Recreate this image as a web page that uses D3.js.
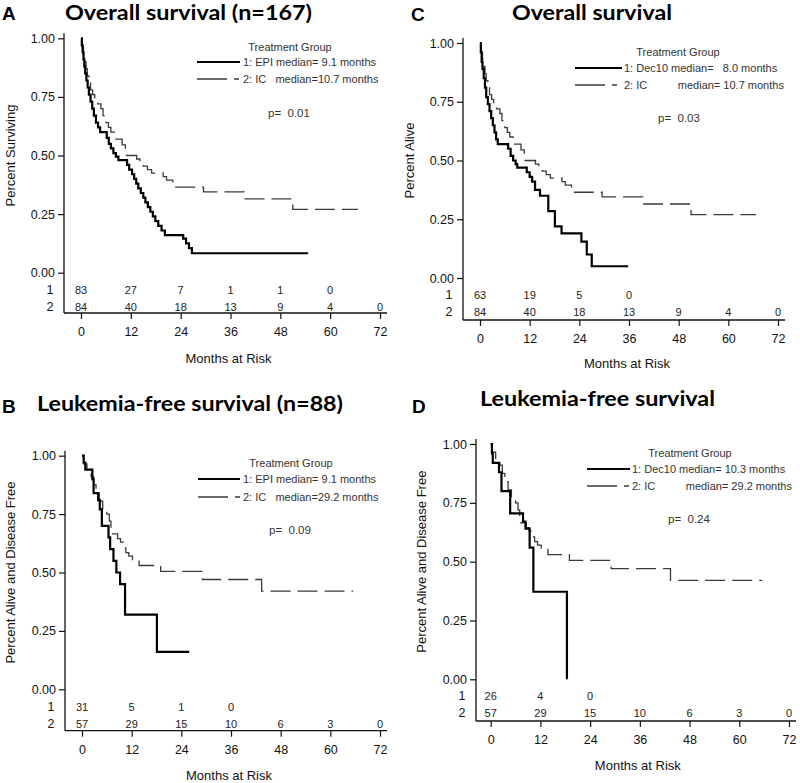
<!DOCTYPE html>
<html><head><meta charset="utf-8">
<script src="https://cdn.jsdelivr.net/npm/d3@7"></script>
<style>
html,body{margin:0;padding:0;background:#fff;}
svg text{white-space:pre;}
</style></head>
<body>
<svg id="chart" width="800" height="783"></svg>
<script>
// ---------- data ----------
const monthTicks = [0, 12, 24, 36, 48, 60, 72];
const yTickValues = [0, 0.25, 0.5, 0.75, 1.0];

// Overall survival, EPI (panel A)
const osEpiTime = [0,0.2,0.4,0.6,0.8,1.0,1.3,1.6,1.9,2.3,2.7,3.1,3.6,4.1,4.6,6.2,6.7,7.2,7.8,8.4,9.0,11.1,11.6,12.3,12.8,13.3,13.8,14.4,15.0,15.5,16.1,16.7,17.3,17.9,18.6,19.4,20.2,24.6,25.3,26.0,26.7,54.7];
const osEpiSurv = [1.0,0.97,0.94,0.91,0.88,0.85,0.82,0.79,0.76,0.73,0.70,0.67,0.64,0.62,0.60,0.575,0.55,0.53,0.51,0.495,0.48,0.46,0.44,0.42,0.40,0.38,0.36,0.34,0.32,0.30,0.28,0.26,0.24,0.22,0.20,0.18,0.16,0.145,0.125,0.105,0.083,0.083];
// Overall survival, IC (panels A and C)
const osIcTime = [0,0.3,0.6,0.9,1.2,1.5,1.9,2.3,2.8,3.3,4.0,4.8,5.3,6.0,6.6,7.2,8.0,9.9,10.7,13.4,14.2,15.0,16.0,17.0,19.8,20.6,22.1,29.5,39.3,51.0,66.7];
const osIcSurv = [1.0,0.96,0.93,0.90,0.87,0.84,0.81,0.78,0.76,0.74,0.72,0.70,0.67,0.64,0.62,0.60,0.57,0.545,0.50,0.485,0.47,0.455,0.44,0.425,0.41,0.395,0.365,0.345,0.315,0.27,0.27];
// Overall survival, Dec10 (panel C)
const osDecTime = [0,0.2,0.4,0.6,0.9,1.2,1.5,1.9,2.3,2.7,3.1,3.5,3.9,4.3,6.8,7.4,8.0,8.6,9.0,11.3,12.0,12.6,13.3,14.5,16.5,18.1,19.7,24.5,25.8,27.0,35.8];
const osDecSurv = [1.0,0.96,0.92,0.89,0.85,0.81,0.77,0.74,0.71,0.68,0.65,0.62,0.59,0.57,0.55,0.52,0.50,0.485,0.47,0.45,0.43,0.41,0.375,0.35,0.285,0.22,0.19,0.155,0.10,0.05,0.05];
// Leukemia-free survival, EPI (panel B)
const lfsEpiTime = [0,0.4,0.8,2.5,2.8,3.9,4.3,4.8,6.4,6.8,7.6,8.3,9.2,10.4,18.1,25.9];
const lfsEpiSurv = [1.0,0.97,0.94,0.90,0.84,0.81,0.77,0.70,0.65,0.60,0.55,0.50,0.45,0.32,0.16,0.16];
// Leukemia-free survival, IC (panels B and D)
const lfsIcTime = [0,0.4,1.2,2.2,2.8,3.4,4.2,5.0,6.0,6.6,7.0,8.6,9.3,10.0,10.6,11.3,12.2,13.8,19.0,29.1,43.4,65.5];
const lfsIcSurv = [1.0,0.965,0.93,0.91,0.875,0.84,0.805,0.775,0.75,0.72,0.665,0.645,0.63,0.605,0.585,0.57,0.555,0.53,0.505,0.47,0.42,0.42];
// Leukemia-free survival, Dec10 (panel D)
const lfsDecTime = [0,0.3,0.5,2.0,2.6,4.7,7.8,8.4,9.4,10.3,18.4];
const lfsDecSurv = [1.0,0.96,0.92,0.88,0.80,0.705,0.67,0.64,0.56,0.372,0.0];

// numbers at risk at 0,12,24,...
const osEpiRisk = [83,27,7,1,1,0];
const osIcRisk = [84,40,18,13,9,4,0];
const osDecRisk = [63,19,5,0];
const lfsEpiRisk = [31,5,1,0];
const lfsIcRisk = [57,29,15,10,6,3,0];
const lfsDecRisk = [26,4,0];

const panelLetters = ["A","C","B","D"];
const panelTitles = ["Overall survival (n=167)","Overall survival","Leukemia-free survival (n=88)","Leukemia-free survival"];
const yTitles = ["Percent Surviving","Percent Alive","Percent Alive and Disease Free","Percent Alive and Disease Free"];
const legend1 = ["1: EPI median= 9.1 months","1: Dec10 median=   8.0 months","1: EPI median= 9.1 months","1: Dec10 median= 10.3 months"];
const legend2 = ["2: IC   median=10.7 months","2: IC          median= 10.7 months","2: IC   median=29.2 months","2: IC          median= 29.2 months"];
const pValues = ["p=  0.01","p=  0.03","p=  0.09","p=  0.24"];

// ---------- layout ----------
const layout = [
  {x0:81, x72:380, yTop:38.3, yBot:272.7, axX:64, axY:313, r1:290, r2:307, tickY:334, titleY:358, ylabX:15,
   letter:[2,20], title:[65,20,247], tg:[290,47], l1:62, l2:79, lx:[197,240], tx:243, p:[268,113],
   s1:[osEpiTime,osEpiSurv,osEpiRisk], s2:[osIcTime,osIcSurv,osIcRisk]},
  {x0:480, x72:778, yTop:43, yBot:278, axX:463, axY:320, r1:295, r2:312, tickY:340, titleY:363, ylabX:414,
   letter:[411,21], title:[512,20,160], tg:[678,52], l1:68, l2:85, lx:[575,622], tx:624, p:[658,118],
   s1:[osDecTime,osDecSurv,osDecRisk], s2:[osIcTime,osIcSurv,osIcRisk]},
  {x0:82, x72:380, yTop:455.7, yBot:689.3, axX:65, axY:730.7, r1:707, r2:724, tickY:752, titleY:775, ylabX:15,
   letter:[2,413], title:[37,411,306], tg:[291,463], l1:479, l2:497, lx:[198,240], tx:243, p:[269,530],
   s1:[lfsEpiTime,lfsEpiSurv,lfsEpiRisk], s2:[lfsIcTime,lfsIcSurv,lfsIcRisk]},
  {x0:490.7, x72:789, yTop:444, yBot:679.3, axX:476, axY:721, r1:696, r2:713, tickY:741.7, titleY:765, ylabX:426,
   letter:[412,413], title:[480,406,235], tg:[690,453], l1:469, l2:486, lx:[587,630], tx:632, p:[668,519],
   s1:[lfsDecTime,lfsDecSurv,lfsDecRisk], s2:[lfsIcTime,lfsIcSurv,lfsIcRisk]}
];

const svg = d3.select("#chart");
svg.append("rect").attr("width",800).attr("height",783).attr("fill","#fff");
const font = "'Liberation Sans', Arial, sans-serif";

layout.forEach((L, i) => {
  const g = svg.append("g");
  const x = d3.scaleLinear().domain([0,72]).range([L.x0, L.x72]);
  const y = d3.scaleLinear().domain([0,1]).range([L.yBot, L.yTop]);

  // panel letter + title
  g.append("text").attr("x",L.letter[0]).attr("y",L.letter[1])
    .attr("font-family",font).attr("font-weight","bold")
    .attr("font-size",19).attr("fill","#000").text(panelLetters[i]);
  g.append("text").attr("x",L.title[0]).attr("y",L.title[1])
    .attr("font-family","Lato, 'Open Sans', sans-serif").attr("font-weight","bold")
    .attr("font-size",20).attr("fill","#000")
    .attr("textLength",L.title[2]).attr("lengthAdjust","spacingAndGlyphs")
    .text(panelTitles[i]);

  // y axis
  const yAxis = d3.axisLeft(y).tickValues(yTickValues).tickFormat(d3.format(".2f")).tickSize(6).tickPadding(3);
  const gy = g.append("g").attr("transform",`translate(${L.axX},0)`).call(yAxis);
  gy.select(".domain").remove();
  gy.selectAll("line").attr("stroke","#111").attr("stroke-width",1.2);
  gy.selectAll("text").attr("font-family",font).attr("font-size",12.5).attr("fill","#111");
  g.append("line").attr("x1",L.axX).attr("x2",L.axX).attr("y1",L.yTop-5).attr("y2",L.axY)
    .attr("stroke","#111").attr("stroke-width",1.3);

  // x axis
  const xAxis = d3.axisBottom(x).tickValues(monthTicks).tickSize(6).tickPadding(8);
  const gx = g.append("g").attr("transform",`translate(0,${L.axY})`).call(xAxis);
  gx.select(".domain").remove();
  gx.selectAll("line").attr("stroke","#111").attr("stroke-width",1.2);
  gx.selectAll("text").attr("font-family",font).attr("font-size",12.5).attr("fill","#111");
  g.append("line").attr("x1",L.axX).attr("x2",L.x72+7).attr("y1",L.axY).attr("y2",L.axY)
    .attr("stroke","#111").attr("stroke-width",1.3);

  // axis titles
  g.append("text").attr("x",(L.x0+L.x72)/2 - 2).attr("y",L.titleY).attr("text-anchor","middle")
    .attr("dominant-baseline","central").attr("font-family",font).attr("font-size",13).attr("fill","#111")
    .text("Months at Risk");
  g.append("text").attr("transform",`translate(${L.ylabX},${(L.yTop+L.yBot)/2}) rotate(-90)`)
    .attr("text-anchor","middle").attr("font-family",font).attr("font-size",13).attr("fill","#111")
    .text(yTitles[i]);

  // at-risk table
  [[L.r1, L.s1[2], "1"], [L.r2, L.s2[2], "2"]].forEach(([ry, risk, lab]) => {
    g.append("text").attr("x", L.axX - 14).attr("y", ry).attr("text-anchor","middle")
      .attr("dominant-baseline","central").attr("font-family",font).attr("font-size",12.5).attr("fill","#111").text(lab);
    g.selectAll(null).data(risk).enter().append("text")
      .attr("x",(d,k)=>x(monthTicks[k])).attr("y",ry).attr("text-anchor","middle")
      .attr("dominant-baseline","central").attr("font-family",font).attr("font-size",11)
      .attr("fill","#222").text(d=>d);
  });

  // curves
  const line = d3.line().x(d=>x(d[0])).y(d=>y(d[1])).curve(d3.curveStepAfter);
  const pts2 = L.s2[0].map((t,k)=>[t, L.s2[1][k]]);
  const pts1 = L.s1[0].map((t,k)=>[t, L.s1[1][k]]);
  g.append("path").attr("d",line(pts2)).attr("fill","none").attr("stroke","#3a3a3a")
    .attr("stroke-width",1.3).attr("stroke-dasharray","20,7");
  g.append("path").attr("d",line(pts1)).attr("fill","none").attr("stroke","#000")
    .attr("stroke-width",2.2);

  // legend
  const lg = g.append("g");
  lg.append("text").attr("x",L.tg[0]).attr("y",L.tg[1]).attr("text-anchor","middle")
    .attr("dominant-baseline","central").attr("font-family",font).attr("font-size",11).attr("fill","#333")
    .text("Treatment Group");
  lg.append("line").attr("x1",L.lx[0]).attr("x2",L.lx[1]).attr("y1",L.l1).attr("y2",L.l1)
    .attr("stroke","#000").attr("stroke-width",2.2);
  lg.append("line").attr("x1",L.lx[0]).attr("x2",L.lx[1]).attr("y1",L.l2).attr("y2",L.l2)
    .attr("stroke","#3a3a3a").attr("stroke-width",1.3).attr("stroke-dasharray","30,7,5,20");
  lg.append("text").attr("x",L.tx).attr("y",L.l1).attr("dominant-baseline","central")
    .attr("font-family",font).attr("font-size",11).attr("fill","#333").text(legend1[i]);
  lg.append("text").attr("x",L.tx).attr("y",L.l2).attr("dominant-baseline","central")
    .attr("font-family",font).attr("font-size",11).attr("fill","#333").text(legend2[i]);
  g.append("text").attr("x",L.p[0]).attr("y",L.p[1]).attr("dominant-baseline","central")
    .attr("font-family",font).attr("font-size",11.5).attr("fill","#333").text(pValues[i]);
});
</script>
</body></html>
